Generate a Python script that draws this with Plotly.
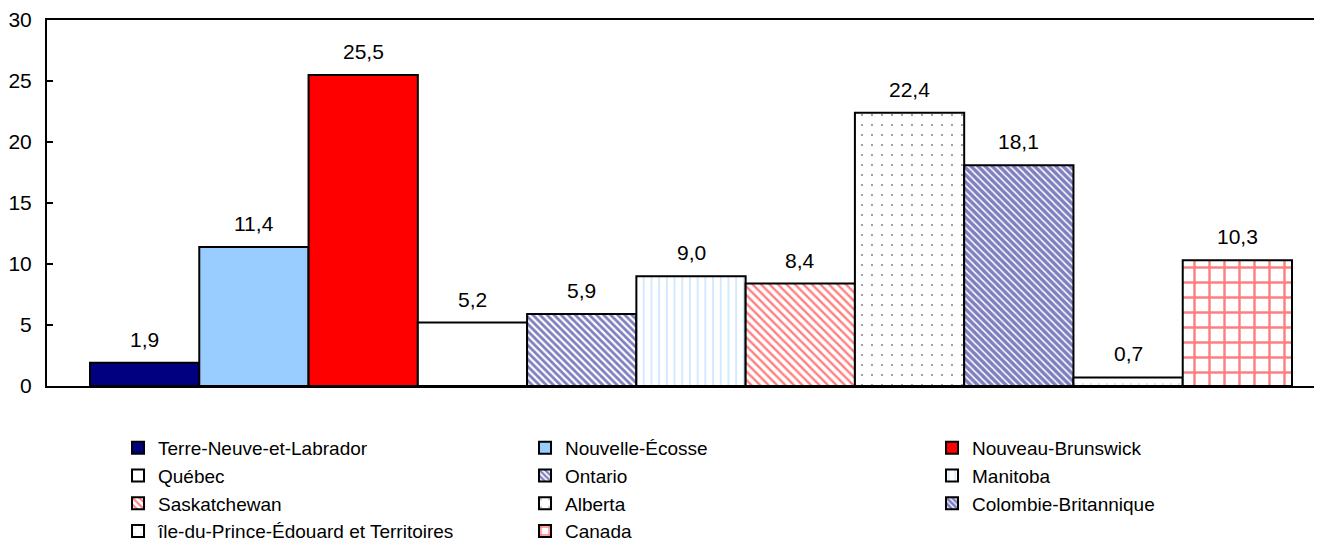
import plotly.graph_objects as go

provinces = ["Terre-Neuve-et-Labrador", "Nouvelle-Écosse", "Nouveau-Brunswick", "Québec",
             "Ontario", "Manitoba", "Saskatchewan", "Alberta", "Colombie-Britannique",
             "île-du-Prince-Édouard et Territoires", "Canada"]
values = [1.9, 11.4, 25.5, 5.2, 5.9, 9.0, 8.4, 22.4, 18.1, 0.7, 10.3]
y_ticks = [0, 5, 10, 15, 20, 25, 30]

# style per series: (bg color, pattern shape, fg color, size, solidity)
styles = [
    ("#000080", "", None, None, None),
    ("#99CCFF", "", None, None, None),
    ("#FF0000", "", None, None, None),
    ("#FFFFFF", "", None, None, None),
    ("#FFFFFF", "\\", "#000080", 5, 0.55),
    ("#FFFFFF", "|", "#99CCFF", 7.7, 0.22),
    ("#FFFFFF", "\\", "#FF0000", 6, 0.4),
    ("#FFFFFF", ".", "#000000", 10, 0.03),
    ("#FFFFFF", "\\", "#000080", 5, 0.7),
    ("#FFFFFF", ".", "#99CCFF", 8, 0.06),
    ("#FFFFFF", "+", "#FF0000", 15, 0.3),
]

FONT = "Liberation Sans, Arial, Helvetica, sans-serif"

fig = go.Figure()
for i, (name, val, st) in enumerate(zip(provinces, values, styles)):
    bg, shape, fg, size, sol = st
    marker = dict(color=bg, line=dict(color="#000000", width=2))
    if shape:
        marker["pattern"] = dict(shape=shape, fgcolor=fg, bgcolor=bg, size=size,
                                 solidity=sol, fillmode="overlay")
    fig.add_trace(go.Bar(x=[i], y=[val], name=name, width=1, marker=marker,
                         hoverinfo="skip"))
    fig.add_annotation(x=i, y=val, text=f"{val:.1f}".replace(".", ","),
                       showarrow=False, yanchor="bottom", yshift=10,
                       font=dict(size=21, color="#000000", family=FONT))

# the page body adds an 8px offset; the figure is sized to fill the rest of the window
fig.update_layout(
    width=1314, height=531,
    margin=dict(l=39, r=0, t=12, b=153, autoexpand=False),
    paper_bgcolor="#FFFFFF", plot_bgcolor="#FFFFFF",
    barmode="overlay",
    showlegend=True,
    font=dict(family=FONT, size=21, color="#000000"),
    legend=dict(orientation="h", x=0.0557, xanchor="left", y=-0.1175, yanchor="top",
                entrywidth=362, entrywidthmode="pixels", traceorder="normal",
                font=dict(size=19, family=FONT), tracegroupgap=0, itemwidth=30,
                bgcolor="rgba(0,0,0,0)"),
    xaxis=dict(range=[-0.8935, 10.7745], showticklabels=False, ticks="",
               showgrid=False, zeroline=False, showline=True, linecolor="#000000",
               linewidth=2, mirror=True, fixedrange=True),
    yaxis=dict(range=[0, 30], tickvals=y_ticks, ticks="inside", ticklen=6,
               tickwidth=2, tickcolor="#000000", showgrid=False, zeroline=False,
               showline=True, linecolor="#000000", linewidth=2, ticklabelstandoff=9,
               tickfont=dict(size=21, family=FONT), fixedrange=True),
)

fig.write_html("out.html")
